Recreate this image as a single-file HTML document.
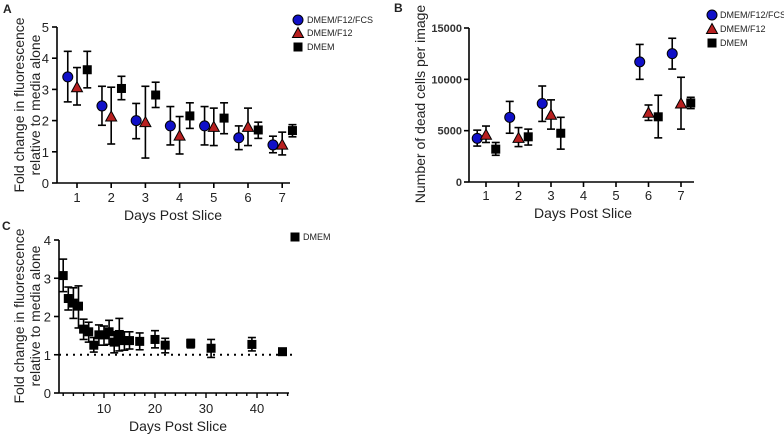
<!DOCTYPE html>
<html><head><meta charset="utf-8"><style>
body{margin:0;background:#fff;}
svg{display:block;font-family:"Liberation Sans",Arial,sans-serif;}
</style></head><body>
<svg id="s" width="784" height="435" viewBox="0 0 784 435"></svg>
<script>
// Panel A data
const daysA = [1,2,3,4,5,6,7];
const aBlue = [3.4,2.47,2.0,1.83,1.83,1.45,1.22];
const aBlueHi = [4.22,3.1,2.55,2.45,2.45,1.83,1.5];
const aBlueLo = [2.6,1.85,1.42,1.22,1.22,1.07,0.97];
const aRed = [3.07,2.13,1.95,1.52,1.8,1.8,1.23];
const aRedHi = [3.7,3.07,3.1,2.13,2.4,2.4,1.63];
const aRedLo = [2.5,1.25,0.8,0.93,1.2,1.2,0.9];
const aBlk = [3.63,3.03,2.82,2.15,2.08,1.7,1.68];
const aBlkHi = [4.22,3.42,3.23,2.57,2.57,1.95,1.87];
const aBlkLo = [3.05,2.67,2.42,1.75,1.58,1.43,1.48];
const aYTicks = [0,1,2,3,4,5];
// Panel B data
const daysB = [1,2,3,6,7];
const bBlue = [4250,6300,7650,11700,12500];
const bBlueHi = [5050,7850,9350,13400,14000];
const bBlueLo = [3500,4750,5900,10000,11000];
const bRed = [4600,4300,6550,6750,7650];
const bRedHi = [5450,5300,8000,7500,10200];
const bRedLo = [3850,3450,5150,6000,5150];
const bBlk = [3200,4400,4750,6350,7700];
const bBlkHi = [3850,5150,6300,8450,8250];
const bBlkLo = [2600,3600,3200,4300,7150];
const bYTicks = [0,5000,10000,15000];
const xTicksAB = [1,2,3,4,5,6,7];
// Panel C data
const daysC = [2,3,4,5,6,7,8,9,10,11,12,13,14,15,17,20,22,27,31,39,45];
const cVal = [3.07,2.47,2.35,2.27,1.67,1.6,1.25,1.52,1.52,1.6,1.33,1.53,1.37,1.37,1.35,1.4,1.25,1.3,1.17,1.27,1.08];
const cHi = [3.5,2.77,2.75,2.8,1.93,1.85,1.45,1.78,1.75,1.9,1.6,1.95,1.6,1.6,1.57,1.63,1.43,1.4,1.4,1.45,1.13];
const cLo = [2.65,2.17,1.95,1.7,1.4,1.33,1.07,1.25,1.25,1.27,1.05,1.1,1.12,1.15,1.13,1.18,1.05,1.18,0.93,1.1,1.03];
const cYTicks = [0,1,2,3,4];
const cXLabels = [10,20,30,40];

const S = document.getElementById('s');
const NS = 'http://www.w3.org/2000/svg';
function el(tag, attrs, parent, text){
  const e = document.createElementNS(NS, tag);
  for (const k in attrs) e.setAttribute(k, attrs[k]);
  if (text !== undefined) e.textContent = text;
  (parent||S).appendChild(e);
  return e;
}
function line(x1,y1,x2,y2,w,g,extra){const e=el('line',Object.assign({x1,y1,x2,y2,stroke:'#000','stroke-width':w||1.5},extra||{}),g);return e;}
function marker(type,x,y,g){
  let e;
  if(type==='circle') e=el('circle',{cx:x,cy:y,r:5,fill:'#1010c8',stroke:'#000','stroke-width':1},g);
  else if(type==='tri') e=el('polygon',{points:`${x},${y-5.5} ${x+5.5},${y+4.5} ${x-5.5},${y+4.5}`,fill:'#b82020',stroke:'#000','stroke-width':1},g);
  else e=el('rect',{x:x-4.5,y:y-4.5,width:9,height:9,fill:'#000'},g);
  return e;
}
function errbar(x,yh,yl,g){
  line(x,yh,x,yl,1.6,g); line(x-4,yh,x+4,yh,1.6,g); line(x-4,yl,x+4,yl,1.6,g);
}
function label(x,y,txt,size,anchor,g,name,extra){
  const t=el('text',Object.assign({x,y,'font-size':size,'text-anchor':anchor||'middle',fill:'#222'},extra||{}),g,txt);
  
  
  return t;
}

// ---------- Panel A ----------
(function(){
  const g=el('g',{});
  
  
  const x0=57,y0=183,yTop=27;
  const xs=d=>77+(d-1)*34.2;
  const ys=v=>y0-(v/5)*(y0-yTop);
  label(3,13,'A',12,'start',g,'panel-a-label',{'font-weight':'bold'});
  line(x0,yTop,x0,y0,1.6,g); line(x0,y0,290,y0,1.6,g);
  aYTicks.forEach(t=>{line(x0-5,ys(t),x0,ys(t),1.6,g);label(x0-8,ys(t)+5,String(t),13,'end',g,'y-tick-label');});
  xTicksAB.forEach(t=>{line(xs(t),y0,xs(t),y0+5,1.6,g);label(xs(t),y0+19,String(t),13,'middle',g,'x-tick-label');});
  label(173,220,'Days Post Slice',14,'middle',g,'x-axis-title');
  label(0,0,'Fold change in fluorescence',14,'middle',g,'y-axis-title',{transform:'translate(24,105) rotate(-90)'});
  label(0,0,'relative to media alone',14,'middle',g,'y-axis-title-line2',{transform:'translate(40,105) rotate(-90)'});
  const series=[['circle',aBlue,aBlueHi,aBlueLo,-0.27],['tri',aRed,aRedHi,aRedLo,0],['square',aBlk,aBlkHi,aBlkLo,0.3]];
  series.forEach(([m,v,hi,lo,off])=>{
    daysA.forEach((d,i)=>{const x=xs(d+off);errbar(x,ys(hi[i]),ys(lo[i]),g);const mk=marker(m,x,ys(v[i]),g);
      });
  });
  const lg=el('g',{},g);
  
  
  marker('circle',298,20,lg);label(307,23,'DMEM/F12/FCS',9,'start',lg,'legend-entry');
  marker('tri',298,33,lg);label(307,36,'DMEM/F12',9,'start',lg,'legend-entry');
  marker('square',298,47,lg);label(307,50,'DMEM',9,'start',lg,'legend-entry');
})();

// ---------- Panel B ----------
(function(){
  const g=el('g',{});
  
  
  const x0=469,y0=182,yTop=28;
  const xs=d=>486+(d-1)*32.5;
  const ys=v=>y0-(v/15000)*(y0-yTop);
  label(394,12,'B',12,'start',g,'panel-b-label',{'font-weight':'bold'});
  line(x0,yTop,x0,y0,1.6,g); line(x0,y0,694,y0,1.6,g);
  bYTicks.forEach(t=>{line(x0-5,ys(t),x0,ys(t),1.6,g);label(x0-7,ys(t)+4,String(t),11,'end',g,'y-tick-label',{'font-weight':'bold','fill':'#333'});});
  xTicksAB.forEach(t=>{line(xs(t),y0,xs(t),y0+5,1.6,g);label(xs(t),y0+18,String(t),13,'middle',g,'x-tick-label');});
  label(583,218,'Days Post Slice',14,'middle',g,'x-axis-title');
  label(0,0,'Number of dead cells per image',14,'middle',g,'y-axis-title',{transform:'translate(425,104) rotate(-90)'});
  const series=[['circle',bBlue,bBlueHi,bBlueLo,-0.27],['tri',bRed,bRedHi,bRedLo,0],['square',bBlk,bBlkHi,bBlkLo,0.3]];
  series.forEach(([m,v,hi,lo,off])=>{
    daysB.forEach((d,i)=>{const x=xs(d+off);errbar(x,ys(hi[i]),ys(lo[i]),g);const mk=marker(m,x,ys(v[i]),g);
      });
  });
  const lg=el('g',{},g);
  
  
  marker('circle',712,15,lg);label(720,18,'DMEM/F12/FCS',9,'start',lg,'legend-entry');
  marker('tri',712,29,lg);label(720,32,'DMEM/F12',9,'start',lg,'legend-entry');
  marker('square',712,43,lg);label(720,46,'DMEM',9,'start',lg,'legend-entry');
})();

// ---------- Panel C ----------
(function(){
  const g=el('g',{});
  
  
  const x0=59,y0=393,yTop=240;
  const xs=d=>104+(d-10)*5.1;
  const ys=v=>y0-(v/4)*(y0-yTop);
  label(2,230,'C',12,'start',g,'panel-c-label',{'font-weight':'bold'});
  line(x0,yTop,x0,y0,1.6,g); line(x0,y0,289,y0,1.6,g);
  cYTicks.forEach(t=>{line(x0-5,ys(t),x0,ys(t),1.6,g);label(x0-8,ys(t)+5,String(t),13,'end',g,'y-tick-label');});
  for(let t=2;t<=46;t+=2){line(xs(t),y0,xs(t),y0+(t%10===0?5:3),1.4,g);}
  cXLabels.forEach(t=>{label(xs(t),y0+20,String(t),13,'middle',g,'x-tick-label');});
  label(178,431,'Days Post Slice',14,'middle',g,'x-axis-title');
  label(0,0,'Fold change in fluorescence',14,'middle',g,'y-axis-title',{transform:'translate(24,316) rotate(-90)'});
  label(0,0,'relative to media alone',14,'middle',g,'y-axis-title-line2',{transform:'translate(40,316) rotate(-90)'});
  const ref=line(x0,ys(1),295,ys(1),2,g,{'stroke-dasharray':'2,5'});
  
  
  daysC.forEach((d,i)=>{const x=xs(d);errbar(x,ys(cHi[i]),ys(cLo[i]),g);const mk=marker('square',x,ys(cVal[i]),g);
    });
  const lg=el('g',{},g);
  
  
  marker('square',295,237,lg);label(303,240,'DMEM',9,'start',lg,'legend-entry');
})();
</script>
</body></html>
